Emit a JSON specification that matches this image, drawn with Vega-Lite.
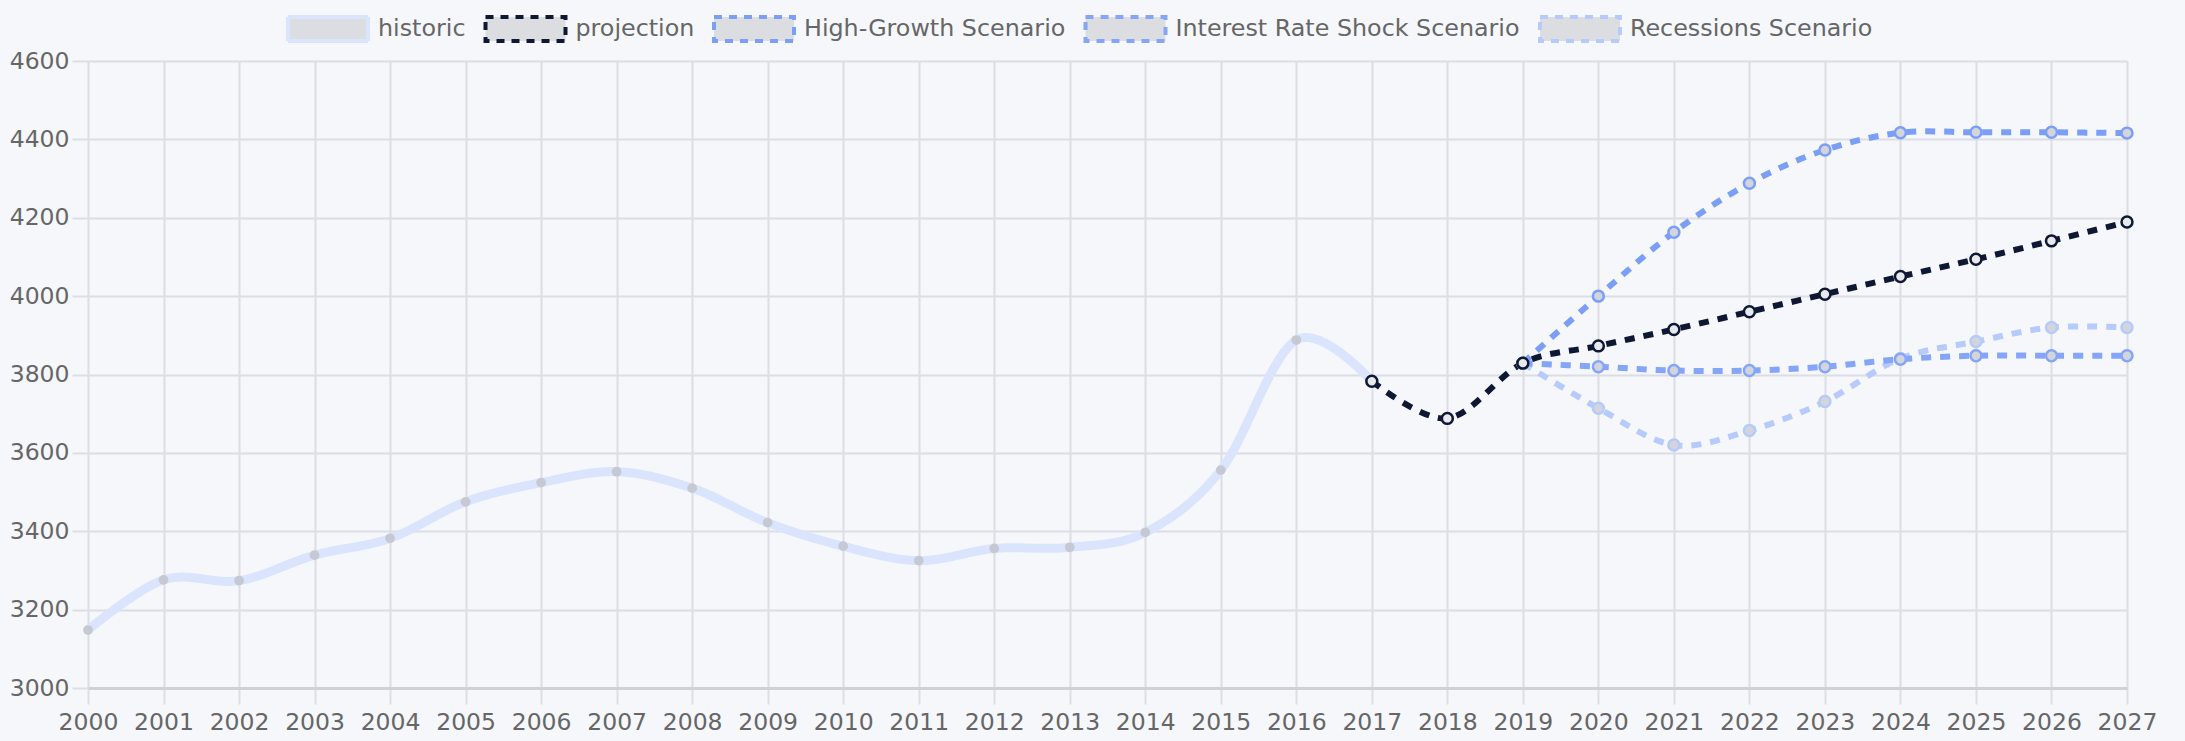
{
  "$schema": "https://vega.github.io/schema/vega-lite/v6.json",
  "width": 2039,
  "height": 627,
  "autosize": "none",
  "padding": {"left": 88, "top": 61, "right": 58, "bottom": 53},
  "background": "#f5f7fb",
  "config": {
    "view": {"stroke": null},
    "font": "DejaVu Sans",
    "axis": {
      "labelFont": "DejaVu Sans",
      "labelFontSize": 23.5,
      "labelColor": "#666666",
      "gridColor": "#dcdee3",
      "gridWidth": 2,
      "tickColor": "#dcdee3",
      "tickWidth": 2,
      "tickSize": 16,
      "title": null
    }
  },
  "data": {
    "values": [
      {"series": "historic", "year": 2000, "value": 3148},
      {"series": "historic", "year": 2001, "value": 3276},
      {"series": "historic", "year": 2002, "value": 3274},
      {"series": "historic", "year": 2003, "value": 3339},
      {"series": "historic", "year": 2004, "value": 3382},
      {"series": "historic", "year": 2005, "value": 3475},
      {"series": "historic", "year": 2006, "value": 3524},
      {"series": "historic", "year": 2007, "value": 3552},
      {"series": "historic", "year": 2008, "value": 3510},
      {"series": "historic", "year": 2009, "value": 3422},
      {"series": "historic", "year": 2010, "value": 3362},
      {"series": "historic", "year": 2011, "value": 3325},
      {"series": "historic", "year": 2012, "value": 3356},
      {"series": "historic", "year": 2013, "value": 3359},
      {"series": "historic", "year": 2014, "value": 3397},
      {"series": "historic", "year": 2015, "value": 3556},
      {"series": "historic", "year": 2016, "value": 3888},
      {"series": "historic", "year": 2017, "value": 3783},
      {"series": "Recessions Scenario", "year": 2019, "value": 3829},
      {"series": "Recessions Scenario", "year": 2020, "value": 3714},
      {"series": "Recessions Scenario", "year": 2021, "value": 3620},
      {"series": "Recessions Scenario", "year": 2022, "value": 3657},
      {"series": "Recessions Scenario", "year": 2023, "value": 3731},
      {"series": "Recessions Scenario", "year": 2024, "value": 3841},
      {"series": "Recessions Scenario", "year": 2025, "value": 3884},
      {"series": "Recessions Scenario", "year": 2026, "value": 3920},
      {"series": "Recessions Scenario", "year": 2027, "value": 3920},
      {"series": "Interest Rate Shock Scenario", "year": 2019, "value": 3829},
      {"series": "Interest Rate Shock Scenario", "year": 2020, "value": 3820},
      {"series": "Interest Rate Shock Scenario", "year": 2021, "value": 3810},
      {"series": "Interest Rate Shock Scenario", "year": 2022, "value": 3810},
      {"series": "Interest Rate Shock Scenario", "year": 2023, "value": 3820},
      {"series": "Interest Rate Shock Scenario", "year": 2024, "value": 3839},
      {"series": "Interest Rate Shock Scenario", "year": 2025, "value": 3848},
      {"series": "Interest Rate Shock Scenario", "year": 2026, "value": 3848},
      {"series": "Interest Rate Shock Scenario", "year": 2027, "value": 3848},
      {"series": "High-Growth Scenario", "year": 2019, "value": 3829},
      {"series": "High-Growth Scenario", "year": 2020, "value": 4000},
      {"series": "High-Growth Scenario", "year": 2021, "value": 4163},
      {"series": "High-Growth Scenario", "year": 2022, "value": 4288},
      {"series": "High-Growth Scenario", "year": 2023, "value": 4373},
      {"series": "High-Growth Scenario", "year": 2024, "value": 4417},
      {"series": "High-Growth Scenario", "year": 2025, "value": 4418},
      {"series": "High-Growth Scenario", "year": 2026, "value": 4418},
      {"series": "High-Growth Scenario", "year": 2027, "value": 4416},
      {"series": "projection", "year": 2017, "value": 3783},
      {"series": "projection", "year": 2018, "value": 3688},
      {"series": "projection", "year": 2019, "value": 3829},
      {"series": "projection", "year": 2020, "value": 3873},
      {"series": "projection", "year": 2021, "value": 3915},
      {"series": "projection", "year": 2022, "value": 3960},
      {"series": "projection", "year": 2023, "value": 4005},
      {"series": "projection", "year": 2024, "value": 4050},
      {"series": "projection", "year": 2025, "value": 4094},
      {"series": "projection", "year": 2026, "value": 4141},
      {"series": "projection", "year": 2027, "value": 4189}
    ]
  },
  "encoding": {
    "x": {
      "field": "year",
      "type": "quantitative",
      "scale": {"domain": [2000, 2027], "nice": false, "zero": false},
      "axis": {
        "values": [2000, 2001, 2002, 2003, 2004, 2005, 2006, 2007, 2008, 2009, 2010, 2011, 2012, 2013, 2014, 2015, 2016, 2017, 2018, 2019, 2020, 2021, 2022, 2023, 2024, 2025, 2026, 2027],
        "format": "d",
        "labelPadding": 6,
        "labelFlush": false,
        "labelOverlap": false,
        "domain": true,
        "domainColor": "#cfd1d6",
        "domainWidth": 3
      }
    },
    "y": {
      "field": "value",
      "type": "quantitative",
      "scale": {"domain": [3000, 4600], "nice": false, "zero": false},
      "axis": {
        "values": [3000, 3200, 3400, 3600, 3800, 4000, 4200, 4400, 4600],
        "format": "d",
        "labelPadding": 3,
        "domain": false
      }
    },
    "stroke": {
      "field": "series",
      "type": "nominal",
      "scale": {
        "domain": ["historic", "projection", "High-Growth Scenario", "Interest Rate Shock Scenario", "Recessions Scenario"],
        "range": ["#dbe4fd", "#0f1833", "#7b9ef7", "#84a5f8", "#b6cafb"]
      },
      "legend": {
        "title": null,
        "orient": "none",
        "direction": "horizontal",
        "legendX": 198,
        "legendY": -74,
        "padding": 0,
        "symbolType": "M-1,-0.3H1V0.3H-1Z",
        "symbolSize": 6400,
        "symbolStrokeWidth": 4,
        "symbolFillColor": "#dcdde1",
        "labelFont": "DejaVu Sans",
        "labelFontSize": 23.8,
        "labelColor": "#666666",
        "labelOffset": 8,
        "labelLimit": 0,
        "columnPadding": 11.5,
        "encode": {
          "symbols": {
            "update": {
              "fill": {"value": "#dcdde1"},
              "opacity": {"value": 1},
              "strokeWidth": {"value": 4},
              "strokeDash": {"signal": "datum.value === 'historic' ? [1, 0] : [8, 7]"}
            }
          }
        }
      }
    }
  },
  "layer": [
    {
      "mark": {"type": "line", "interpolate": "cardinal"},
      "encoding": {
        "strokeWidth": {"condition": {"test": "datum.series === 'historic'", "value": 9}, "value": 6},
        "strokeDash": {"condition": {"test": "datum.series === 'historic'", "value": [1, 0]}, "value": [10, 9]}
      }
    },
    {
      "mark": {"type": "point", "shape": "circle", "filled": true, "opacity": 1},
      "encoding": {
        "fill": {
          "condition": [
            {"test": "datum.series === 'historic'", "value": "#c6c9d3"},
            {"test": "datum.series === 'projection'", "value": "#e8e9ed"}
          ],
          "value": "#d3d5db"
        },
        "strokeWidth": {"condition": {"test": "datum.series === 'historic'", "value": 0}, "value": 2.5},
        "size": {"condition": {"test": "datum.series === 'historic'", "value": 95}, "value": 120}
      }
    }
  ]
}
